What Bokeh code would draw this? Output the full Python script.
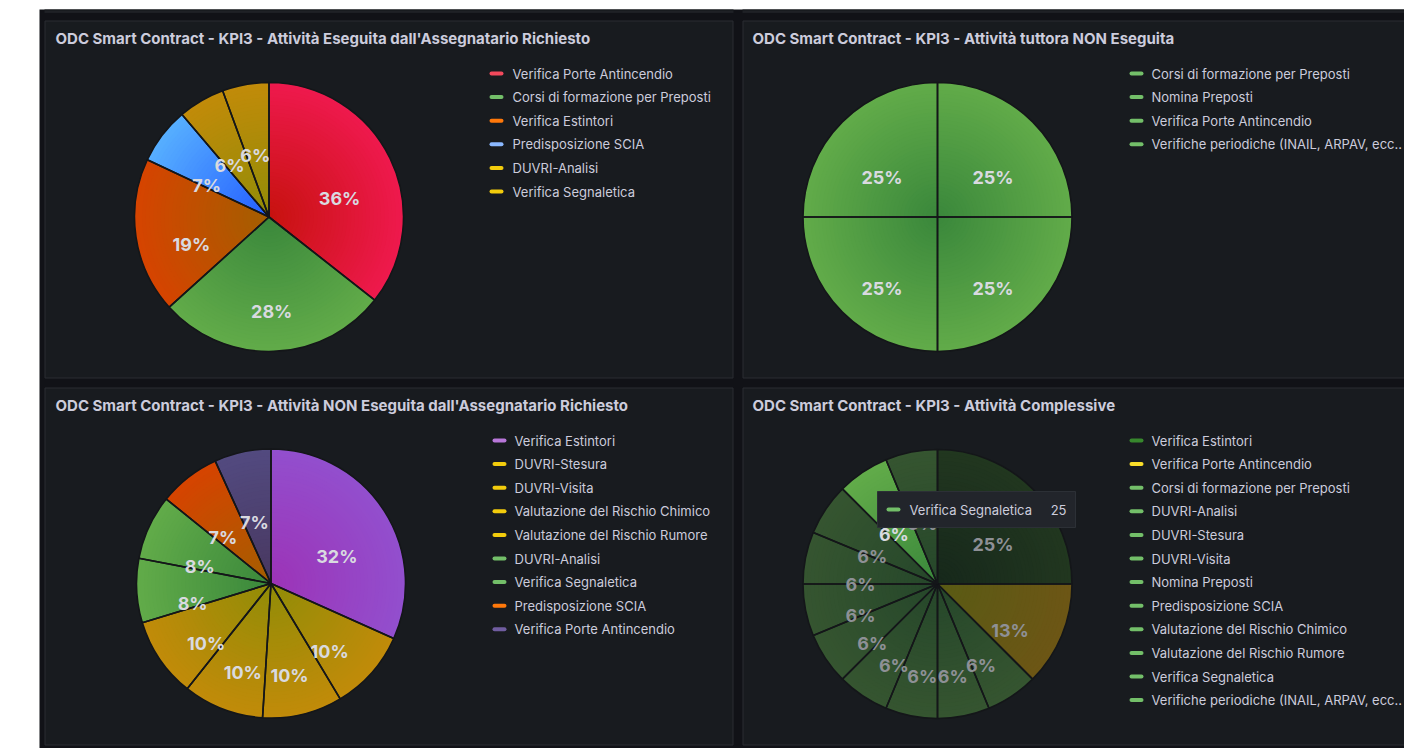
import math
import colorsys
from bokeh.plotting import figure
from bokeh.models import ColumnDataSource
from bokeh.core.properties import value
from bokeh.embed import file_html
from bokeh.resources import INLINE

W, H = 1404, 748

# ---------------- data ----------------
titles = [
    "ODC Smart Contract - KPI3 - Attività Eseguita dall'Assegnatario Richiesto",
    "ODC Smart Contract - KPI3 - Attività tuttora NON Eseguita",
    "ODC Smart Contract - KPI3 - Attività NON Eseguita dall'Assegnatario Richiesto",
    "ODC Smart Contract - KPI3 - Attività Complessive",
]

p1_labels = ["Verifica Porte Antincendio", "Corsi di formazione per Preposti", "Verifica Estintori",
             "Predisposizione SCIA", "DUVRI-Analisi", "Verifica Segnaletica"]
p1_values = [35.6, 27.7, 18.7, 6.8, 5.6, 5.6]
p1_colors = ["#F2495C", "#73BF69", "#FF780A", "#8AB8FF", "#F2CC0C", "#F2CC0C"]

p2_labels = ["Corsi di formazione per Preposti", "Nomina Preposti", "Verifica Porte Antincendio",
             "Verifiche periodiche (INAIL, ARPAV, ecc.."]
p2_values = [1, 1, 1, 1]
p2_colors = ["#73BF69", "#73BF69", "#73BF69", "#73BF69"]

p3_labels = ["Verifica Estintori", "DUVRI-Stesura", "DUVRI-Visita", "Valutazione del Rischio Chimico",
             "Valutazione del Rischio Rumore", "DUVRI-Analisi", "Verifica Segnaletica",
             "Predisposizione SCIA", "Verifica Porte Antincendio"]
p3_values = [31.7, 9.7, 9.6, 9.7, 9.6, 7.7, 7.8, 7.4, 6.8]
p3_colors = ["#B877D9", "#F2CC0C", "#F2CC0C", "#F2CC0C", "#F2CC0C", "#73BF69", "#73BF69",
             "#FF780A", "#705DA0"]

p4_labels = ["Verifica Estintori", "Verifica Porte Antincendio", "Corsi di formazione per Preposti",
             "DUVRI-Analisi", "DUVRI-Stesura", "DUVRI-Visita", "Nomina Preposti", "Predisposizione SCIA",
             "Valutazione del Rischio Chimico", "Valutazione del Rischio Rumore", "Verifica Segnaletica",
             "Verifiche periodiche (INAIL, ARPAV, ecc.."]
p4_values = [100, 50, 25, 25, 25, 25, 25, 25, 25, 25, 25, 25]
p4_colors = ["#37872D", "#FADE2A"] + ["#73BF69"] * 10
p4_hovered = "Verifica Segnaletica"

# ---------------- styling ----------------
PAGE_BG = "#111217"
PANEL_BG = "#181b1f"
PANEL_BORDER = "#2a2d32"
TEXT = "#ccccdc"
LABEL = "#d9dae0"
FONT = "Inter"


def Y(sy):
    return H - sy


def hex_rgb(c):
    return tuple(int(c[i:i + 2], 16) / 255 for i in (1, 3, 5))


def adjust(c, darken, spin):
    r, g, b = hex_rgb(c)
    h, l, s = colorsys.rgb_to_hls(r, g, b)
    l = min(1.0, max(0.0, l - darken / 100))
    h = ((h * 360 + spin) % 360) / 360
    return colorsys.hls_to_rgb(h, l, s)


def mix_rgb(a, b, t):
    return tuple(a[i] + (b[i] - a[i]) * t for i in range(3))


def to_hex(c):
    return "#%02x%02x%02x" % tuple(int(round(255 * min(1, max(0, v)))) for v in c)


p = figure(width=W, height=H, x_range=(0, W), y_range=(0, H), toolbar_location=None,
           output_backend="svg", min_border=0, x_axis_location=None, y_axis_location=None)
p.grid.visible = False
p.outline_line_color = None
p.background_fill_color = "#ffffff"
p.border_fill_color = "#ffffff"

# page background
p.quad(left=[39], right=[W], top=[Y(9)], bottom=[Y(H)], fill_color=PAGE_BG, line_color=None)

# panels: (left, right, top, bottom) in screen px
panels = [(44.5, 732.5, 20.5, 377.5), (742.5, 1420, 20.5, 377.5),
          (44.5, 732.5, 387.5, 744.5), (742.5, 1420, 387.5, 744.5)]
p.quad(left=[a[0] for a in panels], right=[a[1] for a in panels],
       top=[Y(a[2]) for a in panels], bottom=[Y(a[3]) for a in panels],
       fill_color=PANEL_BG, line_color=PANEL_BORDER, line_width=1)
# bottom edges of the panels of the row above (cut by the top of the window)
p.quad(left=[44, 742], right=[733, 1420], top=[Y(9), Y(9)], bottom=[Y(11), Y(11)],
       fill_color=PANEL_BG, line_color=None)
p.segment(x0=[44, 742], x1=[733, 1420], y0=[Y(11.5), Y(11.5)], y1=[Y(11.5), Y(11.5)],
          line_color=PANEL_BORDER, line_width=1)

# titles
title_pos = [(55, 38), (752, 38), (55, 405), (752, 405)]
p.text(x=[t[0] for t in title_pos], y=[Y(t[1]) for t in title_pos], text=titles,
       text_font=value(FONT), text_font_size="15px", text_font_style="bold", text_color=TEXT,
       text_align="left", text_baseline="middle")

BG_RGB = hex_rgb(PANEL_BG)


def draw_pie(cx, cy, R, labels, values, colors, hovered=None, N=36):
    total = float(sum(values))
    fr = [v / total for v in values]
    starts, ends = [], []
    acc = 0.0
    for f in fr:
        starts.append(acc)
        acc += f
        ends.append(acc)
    faded = [hovered is not None and lab != hovered for lab in labels]
    # gradient discs (largest first)
    xs, ys, rs, sa, ea, fc = [], [], [], [], [], []
    for k in range(N):
        rad = R * (N - k) / N
        t = (N - k - 0.5) / N
        for i, c in enumerate(colors):
            col = mix_rgb(adjust(c, 20, 8), adjust(c, 10, -8), t)
            if faded[i]:
                col = mix_rgb(BG_RGB, col, 0.4)
            xs.append(cx)
            ys.append(Y(cy))
            rs.append(rad)
            sa.append(math.pi / 2 - 2 * math.pi * ends[i])
            ea.append(math.pi / 2 - 2 * math.pi * starts[i])
            fc.append(to_hex(col))
    src = ColumnDataSource(dict(x=xs, y=ys, r=rs, s=sa, e=ea, c=fc))
    p.wedge(x="x", y="y", radius="r", start_angle="s", end_angle="e", fill_color="c",
            line_color=None, source=src)
    # slice borders
    osrc = ColumnDataSource(dict(
        x=[cx] * len(values), y=[Y(cy)] * len(values), r=[R] * len(values),
        s=[math.pi / 2 - 2 * math.pi * e for e in ends],
        e=[math.pi / 2 - 2 * math.pi * s for s in starts]))
    p.wedge(x="x", y="y", radius="r", start_angle="s", end_angle="e", fill_color=None,
            line_color="#141619", line_width=1.6, source=osrc)
    # percentage labels
    lr = R * 7 / 12
    lx, ly, lt, lc = [], [], [], []
    for i in range(len(values)):
        mid = math.pi / 2 - 2 * math.pi * (starts[i] + ends[i]) / 2
        lx.append(cx + lr * math.cos(mid))
        ly.append(Y(cy) + lr * math.sin(mid))
        lt.append("%d%%" % int(math.floor(fr[i] * 100 + 0.5)))
        lc.append("#8e9096" if faded[i] else LABEL)
    lsrc = ColumnDataSource(dict(x=lx, y=ly, t=lt, c=lc))
    p.text(x="x", y="y", text="t", source=lsrc, text_font=value(FONT), text_font_size="18px",
           text_font_style="bold", text_color="c", text_align="center", text_baseline="middle",
           y_offset=16)


def draw_legend(mx, tx, y0, labels, colors, step=23.6):
    ys = [Y(y0 + i * step) for i in range(len(labels))]
    p.segment(x0=[mx + 2] * len(labels), x1=[mx + 12] * len(labels), y0=ys, y1=ys,
              line_color=colors, line_width=4, line_cap="round")
    p.text(x=[tx] * len(labels), y=ys, text=labels, text_font=value(FONT), text_font_size="13px",
           text_color=TEXT, text_align="left", text_baseline="middle")


draw_pie(268.5, 216.5, 134.5, p1_labels, p1_values, p1_colors)
draw_legend(489, 512, 73, p1_labels, p1_colors)

draw_pie(937, 216.5, 134.5, p2_labels, p2_values, p2_colors)
draw_legend(1129, 1151, 73, p2_labels, p2_colors)

draw_pie(270.5, 583, 134.5, p3_labels, p3_values, p3_colors)
draw_legend(492, 514, 440, p3_labels, p3_colors)

draw_pie(937, 583.5, 134.5, p4_labels, p4_values, p4_colors, hovered=p4_hovered)
draw_legend(1129, 1151, 440, p4_labels, p4_colors)

# tooltip for the hovered slice of the last panel
hi = p4_labels.index(p4_hovered)
p.quad(left=[877], right=[1075], top=[Y(491)], bottom=[Y(527)], fill_color="#22252b",
       line_color="#2c3036", line_width=1)
p.segment(x0=[888], x1=[898], y0=[Y(509)], y1=[Y(509)], line_color=p4_colors[hi], line_width=4,
          line_cap="round")
p.text(x=[909], y=[Y(509)], text=[p4_hovered], text_font=value(FONT), text_font_size="13px",
       text_color=TEXT, text_align="left", text_baseline="middle")
p.text(x=[1066], y=[Y(509)], text=[str(p4_values[hi])], text_font=value(FONT), text_font_size="13px",
       text_color=TEXT, text_align="right", text_baseline="middle")

open("out.html", "w").write(file_html(p, INLINE))
